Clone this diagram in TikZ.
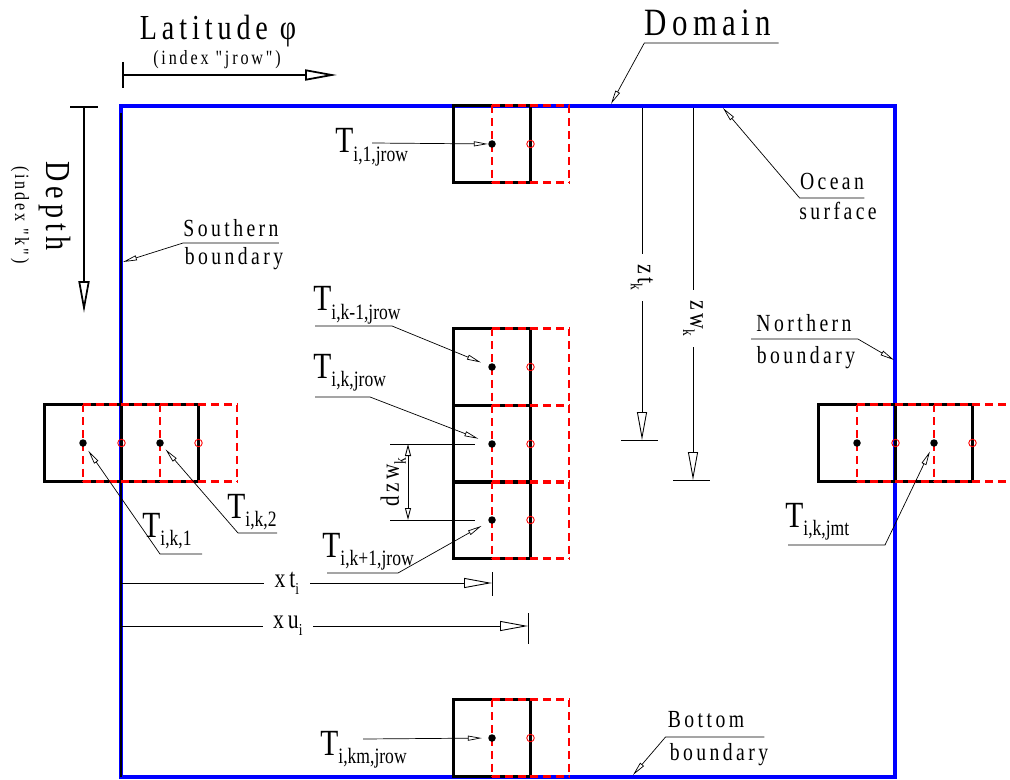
\documentclass[tikz,border=0pt]{standalone}
\usepackage{fontspec}
\setmainfont{Liberation Serif}
\newfontfamily\widefont[FakeStretch=0.8,LetterSpace=14]{Liberation Serif}
\newfontfamily\narrowfont[FakeStretch=0.8]{Liberation Serif}
\usetikzlibrary{arrows.meta,calc}

\newcommand{\Tname}[1]{{\narrowfont\fontsize{21}{24}\selectfont T}%
  \raisebox{-5pt}{\narrowfont\fontsize{12.5}{14}\selectfont #1}}
\newcommand{\dimname}[2]{#1\raisebox{-4pt}{\fontsize{9.5}{10}\selectfont #2}}

\begin{document}
\begin{tikzpicture}[
 x=0.02cm, y=-0.02cm,
 domainline/.style={draw=blue,line width=2.7pt},
 tcell/.style={draw=black,line width=1.45pt,minimum size=1.54cm,inner sep=0},
 ucell/.style={draw=red,line width=1.45pt,dash pattern=on 4.5pt off 2.8pt},
 tdot/.style={circle,fill=black,minimum size=0.15cm,inner sep=0},
 udot/.style={circle,draw=red,line width=0.5pt,minimum size=0.15cm,inner sep=0},
 leader/.style={line width=0.4pt,-{Triangle[open,length=0.28cm,width=0.1cm]}},
 axisarrow/.style={line width=1pt,-{Triangle[open,length=0.64cm,width=0.22cm]}},
 dimline/.style={line width=0.5pt,-{Triangle[open,length=0.56cm,width=0.2cm]}},
 dimboth/.style={line width=0.5pt,
   {Triangle[open,length=0.24cm,width=0.12cm]}-{Triangle[open,length=0.24cm,width=0.12cm]}},
 tickline/.style={line width=0.5pt},
 bigtext/.style={font=\widefont\fontsize{20}{24}\selectfont,inner sep=0},
 midtext/.style={font=\widefont\fontsize{14}{16}\selectfont,inner sep=0},
 smalltext/.style={font=\widefont\fontsize{11.5}{13}\selectfont,inner sep=0},
 dimtext/.style={font=\widefont\fontsize{15.5}{18}\selectfont,fill=white,
   inner ysep=0,inner xsep=6pt},
 tlabel/.style={inner sep=0,anchor=base west}]
 \useasboundingbox (0,0) rectangle (1010,780);
 \def\cells{t/492/144,a/492/367,b/492/444,c/492/520,m/492/738,
   l1/83/443,l2/160/443,r1/857/443,r2/934/443}

 % domain
 \coordinate (nw) at (121,106);
 \coordinate (ne) at (895,106);
 \coordinate (se) at (895,777);
 \coordinate (sw) at (121,777);
 \draw[domainline] (nw) -- (ne) -- (se) -- (sw) -- cycle;
 \draw[line width=0.9pt] (121,113) -- (sw);

 % grid cells (red edges drawn one by one so shared edges keep one dash phase)
 \foreach \nm/\cx/\cy in \cells
   \node[tcell] (box\nm) at (\cx,\cy) {};
 \foreach \nm/\cx/\cy in \cells
   \draw[ucell] (\cx,\cy-38.5) -- ++(77,0) (\cx,\cy+38.5) -- ++(77,0)
     (\cx,\cy-38.5) -- ++(0,77) (\cx+77,\cy-38.5) -- ++(0,77);
 \foreach \nm/\cx/\cy in \cells {
   \node[tdot] (dot\nm) at (\cx,\cy) {};
   \node[udot] (ring\nm) at (\cx+38.5,\cy) {};
 }

 % axes
 \node[bigtext,anchor=base] (lat) at (218,40) {Latitude φ};
 \node[smalltext,anchor=base] (latidx) at (217,65) {(index "jrow")};
 \coordinate (latS) at (123,75);
 \coordinate (latE) at (337,75);
 \draw[axisarrow] (latS) -- (latE);
 \draw[tickline,line width=1pt] (123,62) -- (123,88);

 \node[bigtext,rotate=-90] (depth) at (55,206) {Depth};
 \node[smalltext,rotate=-90] (depthidx) at (20,215) {(index "k")};
 \coordinate (depS) at (84,107);
 \coordinate (depE) at (84,313);
 \draw[axisarrow] (depS) -- (depE);
 \draw[tickline,line width=1pt] (70,107) -- (98,107);

 % boundary labels
 \node[bigtext,anchor=base,font=\widefont\fontsize{22}{26}\selectfont] (domlbl) at (708,36) {Domain};
 \coordinate (domtip) at (611,104);
 \draw[leader] ($(domlbl.base east)+(7,7)$) -- ($(domlbl.base west)+(0,7)$) -- (domtip);

 \node[midtext,anchor=base] (ocean) at (832,190) {Ocean};
 \node[midtext,anchor=base] (surface) at (838,220) {surface};
 \coordinate (oceantip) at (723,108);
 \draw[leader] ($(ocean.base east)+(0,8)$) -- ($(ocean.base west)+(0,8)$) -- (oceantip);

 \node[midtext,anchor=base] (north) at (804,332) {Northern};
 \node[midtext,anchor=base] (northb) at (806,363) {boundary};
 \coordinate (northtip) at (894,360);
 \draw[leader] ($(north.base west)+(-5,7)$) -- ($(north.base east)+(6,7)$) -- (northtip);

 \node[midtext,anchor=base] (south) at (231,237) {Southern};
 \node[midtext,anchor=base] (southb) at (234,265) {boundary};
 \coordinate (southtip) at (123,262);
 \draw[leader] ($(south.base east)+(0,6)$) -- ($(south.base west)+(0,6)$) -- (southtip);

 \node[midtext,anchor=base] (bottom) at (706,727) {Bottom};
 \node[midtext,anchor=base] (bottomb) at (719,760) {boundary};
 \coordinate (bottomtip) at (633,775);
 \draw[leader] ($(bottom.base east)+(20,10)$) -- ($(bottom.base west)+(-2,10)$) -- (bottomtip);

 % tracer labels
 \node[tlabel] (tlone) at (335,153) {\Tname{i,1,jrow}};
 \draw[leader] ($(tlone.base west)+(37,-10)$) -- (dott);

 \node[tlabel] (tlkm) at (313,311) {\Tname{i,k-1,jrow}};
 \draw[leader,shorten >=4.5pt] ($(tlkm.base west)+(2,15)$) -- ($(tlkm.base west)+(79,15)$) -- (dota);

 \node[tlabel] (tlk) at (313,378) {\Tname{i,k,jrow}};
 \draw[leader,shorten >=6pt] ($(tlk.base west)+(2,19)$) -- ($(tlk.base west)+(57,19)$) -- (dotb);

 \node[tlabel] (tlkp) at (322,557) {\Tname{i,k+1,jrow}};
 \draw[leader,shorten >=4.5pt] ($(tlkp.base west)+(5,16)$) -- ($(tlkp.base west)+(76,16)$) -- (dotc);

 \node[tlabel] (tlbot) at (320,755) {\Tname{i,km,jrow}};
 \draw[leader,shorten >=3.4pt] ($(tlbot.base west)+(43,-16)$) -- (dotm);

 \node[tlabel] (tlfirst) at (142,537) {\Tname{i,k,1}};
 \draw[leader,shorten >=3pt] ($(tlfirst.base west)+(60,17)$) -- ($(tlfirst.base west)+(18,17)$) -- (dotl1);

 \node[tlabel] (tlsecond) at (227,518) {\Tname{i,k,2}};
 \draw[leader,shorten >=2.5pt] ($(tlsecond.base west)+(50,15)$) -- ($(tlsecond.base west)+(11,15)$) -- (dotl2);

 \node[tlabel] (tljmt) at (785,527) {\Tname{i,k,jmt}};
 \draw[leader,shorten >=3pt] ($(tljmt.base west)+(3,18)$) -- ($(tljmt.base west)+(100,18)$) -- (dotr2);

 % dimensions
 \coordinate (xtS) at (121,583);
 \coordinate (xtE) at (492,583);
 \draw[dimline] (xtS) -- node[dimtext,pos=.447] {\dimname{xt}{i}} (xtE);
 \draw[tickline] (492,572) -- (492,596);

 \coordinate (xuS) at (121,626);
 \coordinate (xuE) at (528,626);
 \draw[dimline] (xuS) -- node[dimtext,pos=.41] {\dimname{xu}{i}} (xuE);
 \draw[tickline] (528,613) -- (528,644);

 \coordinate (ztS) at (642,108);
 \coordinate (ztE) at (642,440);
 \draw[dimline] (ztS) -- node[dimtext,pos=.51,rotate=-90] {\dimname{zt}{k}} (ztE);
 \draw[tickline] (621,440) -- (658,440);

 \coordinate (zwS) at (693,108);
 \coordinate (zwE) at (693,480);
 \draw[dimline] (zwS) -- node[dimtext,pos=.565,rotate=-90] {\dimname{zw}{k}} (zwE);
 \draw[tickline] (673,480) -- (710,480);

 \draw[line width=0.5pt] (390,444) -- (475,444);
 \draw[line width=0.5pt] (390,520) -- (475,520);
 \coordinate (dzS) at (408,444);
 \coordinate (dzE) at (408,520);
 \draw[dimboth] (dzS) -- node[midway,rotate=90,anchor=south,inner sep=1pt,
   font=\widefont\fontsize{15}{17}\selectfont] {\dimname{dzw}{k}} (dzE);
\end{tikzpicture}
\end{document}
